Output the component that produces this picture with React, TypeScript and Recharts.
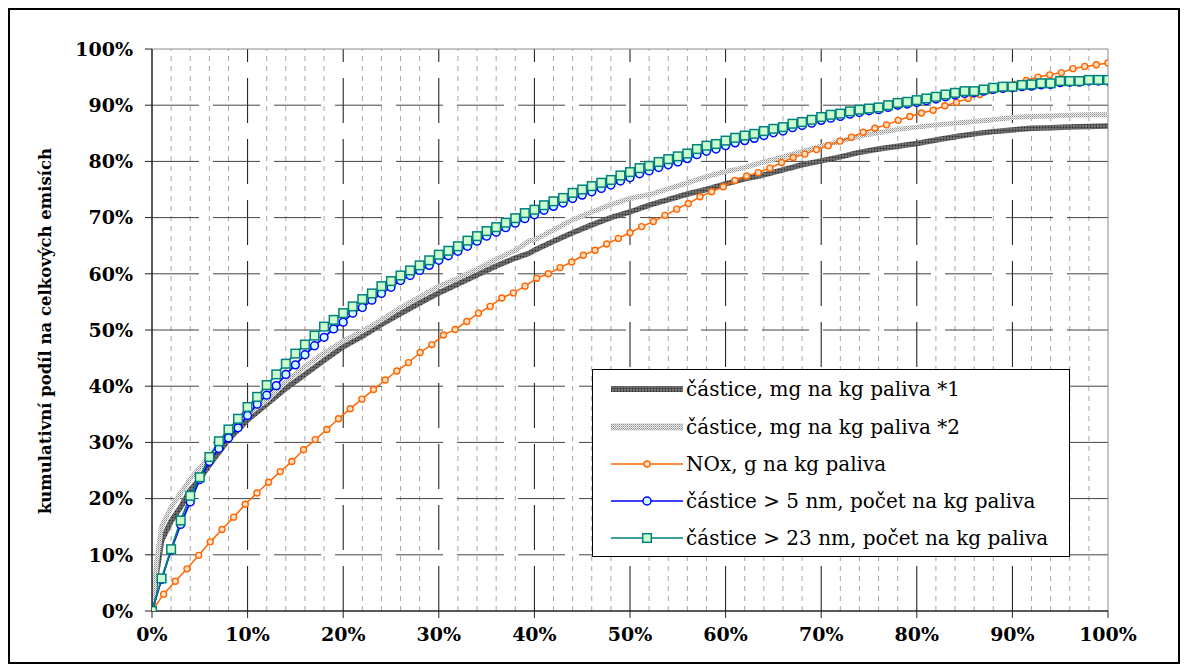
import React from 'react';
import { LineChart, Line, XAxis, YAxis, ReferenceLine } from 'recharts';

const FONT = "'DejaVu Serif', Georgia, serif";

// axis ticks / gridlines (percent)
const majorTicks = [0, 10, 20, 30, 40, 50, 60, 70, 80, 90, 100];
const innerMajor = [10, 20, 30, 40, 50, 60, 70, 80, 90];
const minorX = [2, 4, 6, 8, 12, 14, 16, 18, 22, 24, 26, 28, 32, 34, 36, 38, 42, 44, 46, 48, 52, 54, 56, 58, 62, 64, 66, 68, 72, 74, 76, 78, 82, 84, 86, 88, 92, 94, 96, 98];

// series names
const seriesNames = [
  'částice, mg na kg paliva *1',
  'částice, mg na kg paliva *2',
  'NOx, g na kg paliva',
  'částice > 5 nm, počet na kg paliva',
  'částice > 23 nm, počet na kg paliva',
];

// x for particle-number series (1 % steps)
const pctX = [0, 1, 2, 3, 4, 5, 6, 7, 8, 9, 10, 11, 12, 13, 14, 15, 16, 17, 18, 19, 20, 21, 22, 23, 24, 25, 26, 27, 28, 29, 30, 31, 32, 33, 34, 35, 36, 37, 38, 39, 40, 41, 42, 43, 44, 45, 46, 47, 48, 49, 50, 51, 52, 53, 54, 55, 56, 57, 58, 59, 60, 61, 62, 63, 64, 65, 66, 67, 68, 69, 70, 71, 72, 73, 74, 75, 76, 77, 78, 79, 80, 81, 82, 83, 84, 85, 86, 87, 88, 89, 90, 91, 92, 93, 94, 95, 96, 97, 98, 99, 100];

const gt23Y = [0, 5.8, 11.0, 16.1, 20.5, 23.8, 27.4, 30.2, 32.3, 34.2,
  36.3, 38.1, 40.2, 42.1, 44.0, 45.8, 47.4, 49.0, 50.6, 51.8,
  53.0, 54.2, 55.5, 56.5, 57.8, 58.7, 59.7, 60.6, 61.5, 62.4,
  63.4, 64.1, 64.9, 65.9, 66.7, 67.6, 68.3, 69.1, 69.9, 70.8,
  71.4, 72.2, 72.9, 73.5, 74.4, 75.0, 75.6, 76.2, 76.7, 77.5,
  78.1, 78.8, 79.2, 79.9, 80.4, 80.9, 81.4, 82.2, 82.8, 83.1,
  83.7, 84.2, 84.6, 84.9, 85.4, 85.8, 86.1, 86.7, 87.0, 87.4,
  87.9, 88.3, 88.5, 88.9, 89.2, 89.4, 89.6, 90.0, 90.4, 90.6,
  90.9, 91.2, 91.5, 91.9, 92.2, 92.5, 92.5, 92.8, 93.1, 93.3,
  93.3, 93.6, 93.7, 93.9, 93.9, 94.3, 94.3, 94.3, 94.5, 94.5, 94.5];

const gt5Y = [0, 5.6, 10.8, 15.4, 19.4, 23.4, 26.6, 28.9, 30.8, 32.6,
  34.8, 36.8, 38.4, 40.1, 42.1, 43.8, 45.6, 47.2, 48.7, 50.2,
  51.4, 53.0, 54.0, 55.3, 56.5, 57.6, 58.8, 59.7, 60.6, 61.5,
  62.4, 63.2, 64.0, 64.9, 65.8, 66.7, 67.4, 68.2, 69.0, 69.8,
  70.5, 71.3, 72.0, 72.6, 73.4, 74.0, 74.6, 75.2, 75.8, 76.5,
  77.1, 77.8, 78.3, 78.9, 79.4, 79.9, 80.5, 81.2, 81.8, 82.2,
  82.8, 83.3, 83.7, 84.1, 84.6, 85.1, 85.4, 86.0, 86.4, 86.8,
  87.3, 87.7, 88.0, 88.4, 88.7, 89.0, 89.2, 89.6, 90.0, 90.2,
  90.5, 90.8, 91.1, 91.5, 91.8, 92.1, 92.2, 92.5, 92.8, 93.0,
  93.1, 93.3, 93.4, 93.6, 93.7, 94.0, 94.1, 94.1, 94.3, 94.3, 94.3];

// NOx series
const noxX = [0, 1.22, 2.44, 3.66, 4.88, 6.10, 7.32, 8.54, 9.76, 10.98,
  12.20, 13.41, 14.63, 15.85, 17.07, 18.29, 19.51, 20.73, 21.95, 23.17,
  24.39, 25.61, 26.83, 28.05, 29.27, 30.49, 31.71, 32.93, 34.15, 35.37,
  36.59, 37.80, 39.02, 40.24, 41.46, 42.68, 43.90, 45.12, 46.34, 47.56,
  48.78, 50.00, 51.22, 52.44, 53.66, 54.88, 56.10, 57.32, 58.54, 59.76,
  60.98, 62.20, 63.41, 64.63, 65.85, 67.07, 68.29, 69.51, 70.73, 71.95,
  73.17, 74.39, 75.61, 76.83, 78.05, 79.27, 80.49, 81.71, 82.93, 84.15,
  85.37, 86.59, 87.80, 89.02, 90.24, 91.46, 92.68, 93.90, 95.12, 96.34,
  97.56, 98.78, 100];
const noxY = [0, 3.0, 5.3, 7.5, 9.9, 12.3, 14.5, 16.7, 19.0, 21.0,
  22.9, 24.8, 26.6, 28.7, 30.5, 32.3, 34.2, 36.0, 37.7, 39.4,
  41.1, 42.7, 44.2, 46.0, 47.4, 49.1, 50.1, 51.5, 53.0, 54.2,
  55.7, 56.6, 57.8, 59.2, 60.0, 61.1, 62.1, 63.3, 64.2, 65.3,
  66.3, 67.3, 68.4, 69.3, 70.4, 71.5, 72.5, 73.7, 74.6, 75.5,
  76.6, 77.4, 78.0, 78.8, 79.8, 80.7, 81.3, 82.1, 82.8, 83.6,
  84.3, 85.2, 85.9, 86.5, 87.3, 88.0, 88.6, 89.1, 89.9, 90.5,
  91.2, 91.9, 92.6, 93.1, 93.7, 94.4, 95.0, 95.4, 95.8, 96.5,
  96.9, 97.2, 97.5];

// particle mass series
const massX = [0, 0.5, 1, 2, 3, 4, 5, 6, 8, 10, 12, 14, 16, 18, 20, 22, 24, 26, 28, 30, 32, 34, 36, 38, 39.5,
  40, 42, 44, 46, 48, 50, 52, 54, 56, 58, 60, 62, 64, 66, 68, 70, 72, 74, 76, 78, 80, 82, 84, 86, 88, 90, 92, 94, 96, 98, 100];
const mass1Y = [0, 7, 12.5, 16, 18.5, 21.5, 23.5, 26, 30.5, 34, 36.8, 39.6, 42.1, 44.6, 47.0, 48.9, 51.0, 52.9, 54.8, 56.6, 58.2, 59.8, 61.4, 62.8, 63.7,
  64.2, 65.8, 67.3, 68.7, 70.0, 71.0, 72.2, 73.2, 74.2, 75.0, 76.0, 76.9, 77.6, 78.5, 79.4, 80.1, 80.8, 81.6, 82.2, 82.7, 83.2, 83.8, 84.4, 84.9, 85.3, 85.6, 85.9, 86.0, 86.1, 86.2, 86.3];
const mass2Y = [0, 9, 15, 18.5, 21, 23.5, 25.5, 27.5, 31.5, 35, 37.5, 40.8, 43.5, 45.9, 48.0, 49.8, 51.8, 54.0, 55.9, 57.8, 59.2, 60.8, 62.6, 64.2, 65.9,
  66.0, 67.8, 69.6, 71.0, 72.3, 73.4, 74.1, 75.1, 76.2, 77.3, 78.2, 78.9, 79.9, 80.8, 81.8, 82.7, 83.6, 84.5, 85.1, 85.7, 86.1, 86.5, 86.8, 87.1, 87.4, 87.8, 88.0, 88.1, 88.2, 88.3, 88.3];

const zip = (xs: number[], ys: number[]) => xs.map((x, i) => ({ x, y: ys[i] }));
const mass1Data = zip(massX, mass1Y);
const mass2Data = zip(massX, mass2Y);
const noxData = zip(noxX, noxY);
const gt5Data = zip(pctX, gt5Y);
const gt23Data = zip(pctX, gt23Y);

const ORANGE = '#FF6600';
const BLUE = '#0000FF';
const TEAL = '#008080';

const NoxDot = (p: any) => {
  const { cx, cy, index } = p;
  if (cx == null || cy == null) return <g key={'n' + index} />;
  return <circle key={'n' + index} cx={cx} cy={cy} r={3} fill="#FFE0C4" stroke={ORANGE} strokeWidth={1.4} />;
};
const BlueDot = (p: any) => {
  const { cx, cy, index } = p;
  if (cx == null || cy == null) return <g key={'b' + index} />;
  return <circle key={'b' + index} cx={cx} cy={cy} r={3.9} fill="#CCFFFF" stroke={BLUE} strokeWidth={1.5} />;
};
const TealDot = (p: any) => {
  const { cx, cy, index } = p;
  if (cx == null || cy == null) return <g key={'t' + index} />;
  return <rect key={'t' + index} x={cx - 4.3} y={cy - 4.3} width={8.6} height={8.6} fill="#CCFFCC" stroke={TEAL} strokeWidth={1.5} />;
};

const tickStyle = { fontFamily: FONT, fontWeight: 700, fontSize: 19, fill: '#000' };

const LegendSample = ({ kind }: { kind: number }) => (
  <svg width={72} height={14} style={{ display: 'block' }}>
    <defs>
      <pattern id={'lgDark'} patternUnits="userSpaceOnUse" width="3" height="3">
        <rect width="3" height="3" fill="#5e5e5e" />
        <rect x="0" y="0" width="1" height="1" fill="#2a2a2a" />
        <rect x="1.5" y="1.5" width="1" height="1" fill="#9a9a9a" />
      </pattern>
      <pattern id={'lgLight'} patternUnits="userSpaceOnUse" width="2" height="2">
        <rect width="2" height="2" fill="#f2f2f2" />
        <rect x="0" y="0" width="1" height="1" fill="#8a8a8a" />
        <rect x="1" y="1" width="1" height="1" fill="#b4b4b4" />
      </pattern>
    </defs>
    {kind === 0 && <rect x={0} y={4} width={72} height={6} fill="url(#lgDark)" />}
    {kind === 1 && <rect x={0} y={4} width={72} height={6} fill="url(#lgLight)" stroke="#999" strokeWidth={0.5} />}
    {kind === 2 && (<g><line x1={0} y1={7} x2={72} y2={7} stroke={ORANGE} strokeWidth={1.5} /><circle cx={36} cy={7} r={3} fill="#FFE0C4" stroke={ORANGE} strokeWidth={1.4} /></g>)}
    {kind === 3 && (<g><line x1={0} y1={7} x2={72} y2={7} stroke={BLUE} strokeWidth={1.5} /><circle cx={36} cy={7} r={4} fill="#CCFFFF" stroke={BLUE} strokeWidth={1.5} /></g>)}
    {kind === 4 && (<g><line x1={0} y1={7} x2={72} y2={7} stroke={TEAL} strokeWidth={1.5} /><rect x={31.7} y={2.7} width={8.6} height={8.6} fill="#CCFFCC" stroke={TEAL} strokeWidth={1.5} /></g>)}
  </svg>
);

const legendRowTops = [19, 57, 94, 131, 168];

export default function App() {
  return (
    <div style={{ position: 'relative', width: 1172, height: 656, border: '2px solid #000', boxSizing: 'border-box', background: '#fff' }}>
      <div style={{ position: 'absolute', left: 0, top: 0 }}>
        <LineChart width={1168} height={652} margin={{ top: 39, right: 70, left: 0, bottom: 11 }}>
          <defs>
            <pattern id="patDark" patternUnits="userSpaceOnUse" width="3" height="3">
              <rect width="3" height="3" fill="#5e5e5e" />
              <rect x="0" y="0" width="1" height="1" fill="#2a2a2a" />
              <rect x="1.5" y="1.5" width="1" height="1" fill="#9a9a9a" />
            </pattern>
            <pattern id="patLight" patternUnits="userSpaceOnUse" width="2" height="2">
              <rect width="2" height="2" fill="#f2f2f2" />
              <rect x="0" y="0" width="1" height="1" fill="#8a8a8a" />
              <rect x="1" y="1" width="1" height="1" fill="#b4b4b4" />
            </pattern>
          </defs>
          <XAxis
            type="number"
            dataKey="x"
            domain={[0, 100]}
            ticks={majorTicks}
            tickFormatter={(v: number) => `${v}%`}
            allowDataOverflow
            height={40}
            tickSize={7}
            tickMargin={10}
            tick={tickStyle}
            axisLine={{ stroke: '#222', strokeWidth: 1.5 }}
            tickLine={{ stroke: '#222' }}
          />
          <YAxis
            type="number"
            dataKey="y"
            domain={[0, 100]}
            ticks={majorTicks}
            tickFormatter={(v: number) => `${v}%`}
            allowDataOverflow
            width={142}
            tickSize={7}
            tickMargin={12}
            tick={tickStyle}
            axisLine={{ stroke: '#222', strokeWidth: 1.5 }}
            tickLine={{ stroke: '#222' }}
          />
          {minorX.map((v) => (
            <ReferenceLine key={'mx' + v} x={v} stroke="#a6a6a6" strokeDasharray="5 5" />
          ))}
          {innerMajor.map((v) => (
            <ReferenceLine key={'Mx' + v} x={v} stroke="#111" strokeDasharray="45 16" />
          ))}
          {innerMajor.map((v) => (
            <ReferenceLine key={'My' + v} y={v} stroke="#444" strokeDasharray="47 14" />
          ))}
          <ReferenceLine y={100} stroke="#8a8a8a" />
          <ReferenceLine x={100} stroke="#8a8a8a" />
          <Line data={mass1Data} dataKey="y" name={seriesNames[0]} stroke="url(#patDark)" strokeWidth={5.5} dot={false} isAnimationActive={false} />
          <Line data={mass2Data} dataKey="y" name={seriesNames[1]} stroke="url(#patLight)" strokeWidth={5} dot={false} isAnimationActive={false} />
          <Line data={noxData} dataKey="y" name={seriesNames[2]} stroke={ORANGE} strokeWidth={1.5} dot={NoxDot} isAnimationActive={false} />
          <Line data={gt5Data} dataKey="y" name={seriesNames[3]} stroke={BLUE} strokeWidth={1.8} dot={BlueDot} isAnimationActive={false} />
          <Line data={gt23Data} dataKey="y" name={seriesNames[4]} stroke={TEAL} strokeWidth={1.8} dot={TealDot} isAnimationActive={false} />
          <text
            transform="translate(35,321) rotate(-90)"
            textAnchor="middle"
            dominantBaseline="central"
            style={{ fontFamily: FONT, fontWeight: 700, fontSize: 16.5, fill: '#000' }}
          >
            kumulativní podíl na celkových emisích
          </text>
        </LineChart>
      </div>
      <div
        style={{
          position: 'absolute', left: 582, top: 359, width: 478, height: 188,
          border: '1px solid #000', boxSizing: 'border-box', background: '#fff',
          fontFamily: FONT, fontSize: 20, color: '#000',
        }}
      >
        {seriesNames.map((name, i) => (
          <div key={name} style={{ position: 'absolute', left: 18, top: legendRowTops[i] - 12, height: 24, display: 'flex', alignItems: 'center', whiteSpace: 'nowrap' }}>
            <LegendSample kind={i} />
            <span style={{ marginLeft: 3 }}>{name}</span>
          </div>
        ))}
      </div>
    </div>
  );
}
